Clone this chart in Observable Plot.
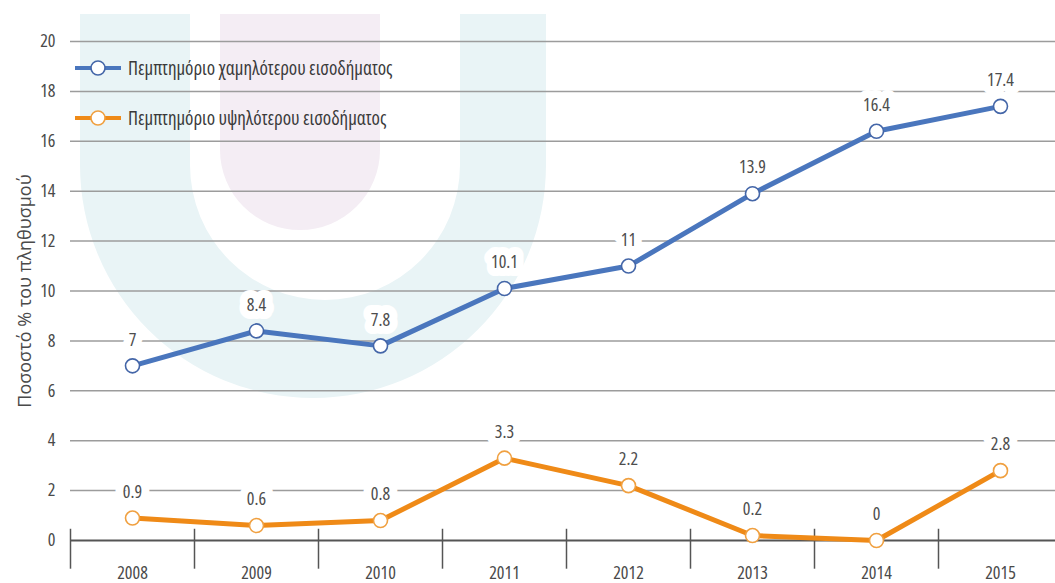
<!DOCTYPE html>
<html>
<head>
<meta charset="utf-8">
<script src="https://cdn.jsdelivr.net/npm/d3@7"></script>
<script src="https://cdn.jsdelivr.net/npm/@observablehq/plot@0.6"></script>
<style>
  html, body { margin: 0; padding: 0; background: #fff; }
  #wrap { position: relative; width: 1055px; height: 583px; overflow: hidden; font-family: "Open Sans", sans-serif; font-stretch: 75%; }
  #chart svg, #chart svg text { font-stretch: 75%; }
  #chart svg g[aria-label="y-axis label"] text { font-stretch: 100%; }
  #legend { position: absolute; left: 75px; top: 55px; color: #3a3a3a; font-size: 19px; font-stretch: 75%; }
  #legend .row { display: flex; align-items: center; height: 26px; margin-bottom: 24px; }
  #legend svg { margin-right: 7px; }
</style>
</head>
<body>
<div id="wrap"><div id="chart"></div><div id="legend"></div></div>
<script>
// ---- data ----
const years = [2008, 2009, 2010, 2011, 2012, 2013, 2014, 2015];
const lowestQuintile = [7, 8.4, 7.8, 10.1, 11, 13.9, 16.4, 17.4];
const highestQuintile = [0.9, 0.6, 0.8, 3.3, 2.2, 0.2, 0, 2.8];
const seriesNames = ["Πεμπτημόριο χαμηλότερου εισοδήματος", "Πεμπτημόριο υψηλότερου εισοδήματος"];
const seriesColors = ["#4a76bd", "#ef8a17"];
const dotStrokes = ["#4466a8", "#f0a040"];
const yTicks = [0, 2, 4, 6, 8, 10, 12, 14, 16, 18, 20];
const yTitle = "Ποσοστό % του πληθυσμού";

const data = [];
years.forEach((yr, i) => {
  data.push({year: yr, value: lowestQuintile[i], series: seriesNames[0]});
  data.push({year: yr, value: highestQuintile[i], series: seriesNames[1]});
});
const bounds = years.map(y => y - 0.5);

const chart = Plot.plot({
  width: 1055,
  height: 583,
  marginLeft: 70,
  marginRight: 0,
  marginTop: 41,
  marginBottom: 43,
  style: {background: "transparent", fontFamily: '"Open Sans", sans-serif', color: "#4a4a4a", overflow: "visible"},
  x: {type: "linear", domain: [2007.5, 2015.5], range: [70, 1062]},
  y: {domain: [0, 20]},
  color: {domain: seriesNames, range: seriesColors},
  marks: [
    Plot.ruleY(yTicks.filter(d => d > 0), {stroke: "#9c9c9c", strokeWidth: 1.5}),
    Plot.axisY(yTicks, {tickSize: 0, tickPadding: 15, fontSize: 18, label: yTitle, labelAnchor: "center", labelArrow: "none", labelOffset: 52}),
    Plot.axisX(years, {tickSize: 0, tickPadding: 26, fontSize: 18, tickFormat: d => String(d), label: null}),
    Plot.ruleX(bounds, {y1: -1.15, y2: 0.45, stroke: "#555", strokeWidth: 1.5}),
    Plot.ruleY([0], {stroke: "#555", strokeWidth: 2}),
    Plot.text(data, {x: "year", y: "value", text: d => String(d.value), dy: -26, fontSize: 18, fill: "#4d4d4d", stroke: "white", strokeWidth: 16}),
    Plot.line(data, {x: "year", y: "value", z: "series", stroke: "series", strokeWidth: 5}),
    Plot.dot(data, {x: "year", y: "value", r: 7, fill: "white", stroke: d => dotStrokes[seriesNames.indexOf(d.series)], strokeWidth: 1.6})
  ]
});

// background watermark (decorative)
const svg = d3.select(chart);
const bg = svg.insert("g", ":first-child");
bg.append("path")
  .attr("d", "M80,14 V165 A233,233 0 0 0 546,165 V14 Z M190,14 V165 A135,135 0 0 0 460,165 V14 Z")
  .attr("fill", "#e9f4f6").attr("fill-rule", "evenodd");
bg.append("path")
  .attr("d", "M220,14 V150 A80,80 0 0 0 380,150 V14 Z")
  .attr("fill", "#f4edf4");

document.getElementById("chart").appendChild(chart);

// legend
const legend = d3.select("#legend");
seriesNames.forEach((name, i) => {
  const row = legend.append("div").attr("class", "row");
  const s = row.append("svg").attr("width", 46).attr("height", 18);
  s.append("line").attr("x1", 0).attr("x2", 46).attr("y1", 9).attr("y2", 9).attr("stroke", seriesColors[i]).attr("stroke-width", 4);
  s.append("circle").attr("cx", 23).attr("cy", 9).attr("r", 7).attr("fill", "white").attr("stroke", dotStrokes[i]).attr("stroke-width", 1.6);
  row.append("span").text(name);
});
</script>
</body>
</html>
